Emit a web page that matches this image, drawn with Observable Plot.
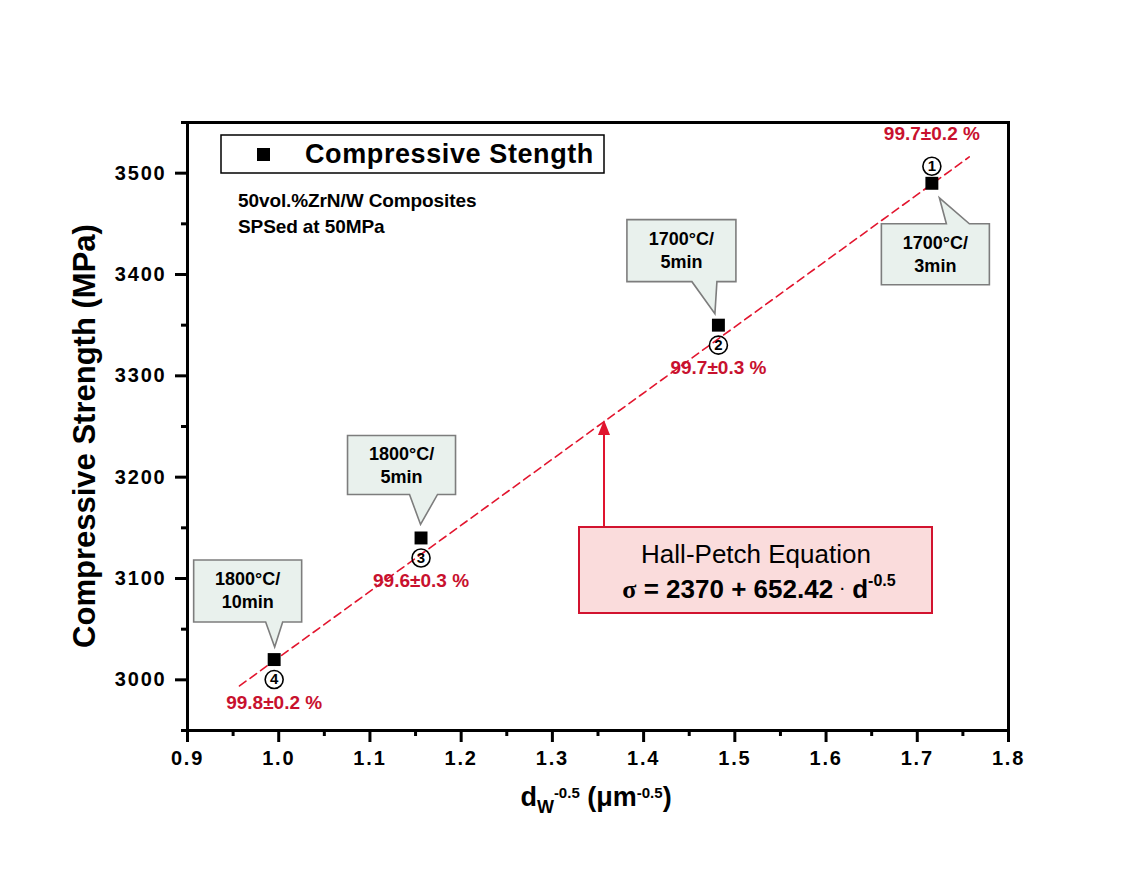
<!DOCTYPE html>
<html><head><meta charset="utf-8">
<script src="https://cdn.jsdelivr.net/npm/d3@7"></script>
<script src="https://cdn.jsdelivr.net/npm/@observablehq/plot@0.6"></script>
<style>
body{margin:0;background:#fff}
#chart svg{font-family:Arial,"Liberation Sans",sans-serif}
</style>
</head><body><div id="chart"></div>
<script>
// ---- data ----
const grainSize = [0.995, 1.156, 1.482, 1.716];      // d_W^-0.5 (um^-0.5)
const strength = [3020, 3140, 3350, 3490];           // MPa
const sampleNo = ["4", "3", "2", "1"];
const conditionLine1 = ["1800°C/", "1800°C/", "1700°C/", "1700°C/"];
const conditionLine2 = ["10min", "5min", "5min", "3min"];
const density = ["99.8±0.2 %", "99.6±0.3 %", "99.7±0.3 %", "99.7±0.2 %"];
const fitX = [0.957, 1.757];
const fitY = [2994, 3516];
const xTicks = [0.9, 1.0, 1.1, 1.2, 1.3, 1.4, 1.5, 1.6, 1.7, 1.8];
const xMinor = [0.95, 1.05, 1.15, 1.25, 1.35, 1.45, 1.55, 1.65, 1.75];
const yTicks = [3000, 3100, 3200, 3300, 3400, 3500];
const yMinor = [2950, 3050, 3150, 3250, 3350, 3450, 3550];

const points = grainSize.map((x, i) => ({
  x, y: strength[i], no: sampleNo[i], c1: conditionLine1[i], c2: conditionLine2[i], dens: density[i]
}));
const fit = fitX.map((x, i) => ({x, y: fitY[i]}));

// ---- layout (pixel offsets for callouts, relative to each point) ----
const calloutLayout = [
  {box: [-80, 28, -99, -37], base: [-8, 9], tip: [1, -12], side: "bottom"},
  {box: [-73, 35, -102, -43], base: [-11, 17], tip: [0, -13], side: "bottom"},
  {box: [-91, 18, -105, -43], base: [-26, -1], tip: [-3, -11], side: "bottom"},
  {box: [-50, 58, 41, 102], base: [15, 38], tip: [8, 15], side: "top"}
];
const RED = "#c8112e";
const FONT = "Arial, 'Liberation Sans', sans-serif";

function annotations(index, scales) {
  const g = d3.create("svg:g").attr("font-family", FONT).attr("text-anchor", "start").attr("fill", "black");
  // callouts
  points.forEach((p, i) => {
    const px = scales.x(p.x), py = scales.y(p.y);
    const c = calloutLayout[i];
    const x0 = px + c.box[0], x1 = px + c.box[1], y0 = py + c.box[2], y1 = py + c.box[3];
    const b1 = px + c.base[0], b2 = px + c.base[1], tx = px + c.tip[0], ty = py + c.tip[1];
    let d;
    if (c.side === "bottom") {
      d = `M${x0},${y0}H${x1}V${y1}H${b2}L${tx},${ty}L${b1},${y1}H${x0}Z`;
    } else {
      d = `M${x0},${y0}H${b1}L${tx},${ty}L${b2},${y0}H${x1}V${y1}H${x0}Z`;
    }
    g.append("path").attr("d", d).attr("fill", "#e9f1ed").attr("stroke", "#7d7d7d").attr("stroke-width", 1.6);
    const cx = (x0 + x1) / 2;
    g.append("text").attr("x", cx).attr("y", y0 + 25).attr("text-anchor", "middle")
      .attr("font-size", 18).attr("font-weight", "bold").text(p.c1);
    g.append("text").attr("x", cx).attr("y", y0 + 48).attr("text-anchor", "middle")
      .attr("font-size", 18).attr("font-weight", "bold").text(p.c2);
  });

  // legend box
  g.append("rect").attr("x", 221).attr("y", 135).attr("width", 383).attr("height", 38)
    .attr("fill", "white").attr("stroke", "black").attr("stroke-width", 1.5);
  g.append("rect").attr("x", 257).attr("y", 148).attr("width", 13).attr("height", 13).attr("fill", "black");
  g.append("text").attr("x", 305).attr("y", 163).attr("font-size", 27).attr("font-weight", "bold")
    .attr("letter-spacing", 0.6).text("Compressive Stength");

  g.append("text").attr("x", 238).attr("y", 207).attr("font-size", 19).attr("font-weight", "bold")
    .attr("letter-spacing", -0.1).text("50vol.%ZrN/W Composites");
  g.append("text").attr("x", 238).attr("y", 233).attr("font-size", 19).attr("font-weight", "bold")
    .attr("letter-spacing", -0.1).text("SPSed at 50MPa");

  // Hall-Petch box + arrow
  g.append("line").attr("x1", 604).attr("x2", 604).attr("y1", 527).attr("y2", 434)
    .attr("stroke", "#e0142e").attr("stroke-width", 2);
  g.append("path").attr("d", "M604,420L598,435L610,435Z").attr("fill", "#e0142e");
  g.append("rect").attr("x", 579).attr("y", 527).attr("width", 353).attr("height", 86)
    .attr("fill", "#fadcdc").attr("stroke", "#d2132f").attr("stroke-width", 2);
  g.append("text").attr("x", 756).attr("y", 563).attr("text-anchor", "middle").attr("font-size", 26)
    .text("Hall-Petch Equation");
  const eq = g.append("text").attr("x", 759).attr("y", 598).attr("text-anchor", "middle")
    .attr("font-size", 26).attr("font-weight", "bold");
  eq.append("tspan").attr("font-family", "'Times New Roman','Liberation Serif',serif").text("σ");
  eq.append("tspan").text(" = 2370 + 652.42 ");
  eq.append("tspan").attr("font-size", 14).attr("dy", -4).text("·");
  eq.append("tspan").attr("dy", 4).text(" d");
  eq.append("tspan").attr("font-size", 16).attr("dy", -12).text("-0.5");

  // axis titles
  g.append("text").attr("transform", "translate(95,436) rotate(-90)").attr("text-anchor", "middle")
    .attr("font-size", 31).attr("font-weight", "bold").text("Compressive Strength (MPa)");
  const xl = g.append("text").attr("x", 596).attr("y", 806).attr("text-anchor", "middle")
    .attr("font-size", 27).attr("font-weight", "bold");
  xl.append("tspan").text("d");
  xl.append("tspan").attr("font-size", 18).attr("dy", 7).text("W");
  xl.append("tspan").attr("font-size", 15).attr("dy", -15).text("-0.5");
  xl.append("tspan").attr("dy", 8).text(" (μm");
  xl.append("tspan").attr("font-size", 15).attr("dy", -8).text("-0.5");
  xl.append("tspan").attr("dy", 8).text(")");
  return g.node();
}

const plot = Plot.plot({
  width: 1127,
  height: 892,
  marginLeft: 187,
  marginRight: 119,
  marginTop: 122,
  marginBottom: 162,
  style: {fontFamily: FONT, background: "white", color: "black", overflow: "visible"},
  x: {domain: [0.9, 1.8]},
  y: {domain: [2950, 3550]},
  marks: [
    Plot.axisX({ticks: xMinor, tickSize: 6, tickFormat: () => "", strokeWidth: 3, label: null}),
    Plot.axisY({ticks: yMinor, tickSize: 6, tickFormat: () => "", strokeWidth: 3, label: null}),
    Plot.axisX({ticks: xTicks, tickSize: 12, tickPadding: 8, tickFormat: d => d.toFixed(1),
      fontSize: 20, fontWeight: "bold", strokeWidth: 3, label: null}),
    Plot.axisY({ticks: yTicks, tickSize: 12, tickPadding: 9, tickFormat: d => String(d),
      fontSize: 20, fontWeight: "bold", strokeWidth: 3, label: null}),
    Plot.line(fit, {x: "x", y: "y", stroke: "#e2152e", strokeWidth: 1.6, strokeDasharray: "8,5"}),
    annotations,
    Plot.dot(points, {x: "x", y: "y", symbol: "square", r: 7.3, fill: "black"}),
    Plot.dot(points, {filter: d => d.no !== "1", x: "x", y: "y", dy: 20, r: 9, stroke: "black", strokeWidth: 1.6, fill: "none"}),
    Plot.dot(points, {filter: d => d.no === "1", x: "x", y: "y", dy: -17, r: 9, stroke: "black", strokeWidth: 1.6, fill: "none"}),
    Plot.text(points, {filter: d => d.no !== "1", x: "x", y: "y", dy: 20, text: "no", fontSize: 15, fontWeight: "bold", fill: "black"}),
    Plot.text(points, {filter: d => d.no === "1", x: "x", y: "y", dy: -17, text: "no", fontSize: 15, fontWeight: "bold", fill: "black"}),
    Plot.text(points, {filter: d => d.no !== "1", x: "x", y: "y", dy: 43, text: "dens", fontSize: 19, fontWeight: "bold", fill: RED}),
    Plot.text(points, {filter: d => d.no === "1", x: "x", y: "y", dy: -49, text: "dens", fontSize: 19, fontWeight: "bold", fill: RED}),
    Plot.frame({strokeWidth: 3, stroke: "black"})
  ]
});

// widen tick labels (reference uses a wide bold face)
d3.select(plot).selectAll("g[aria-label*='tick label']")
  .attr("letter-spacing", 1.8)
  .selectAll("text").attr("letter-spacing", 1.8);
document.getElementById("chart").appendChild(plot);
</script>
</body></html>
